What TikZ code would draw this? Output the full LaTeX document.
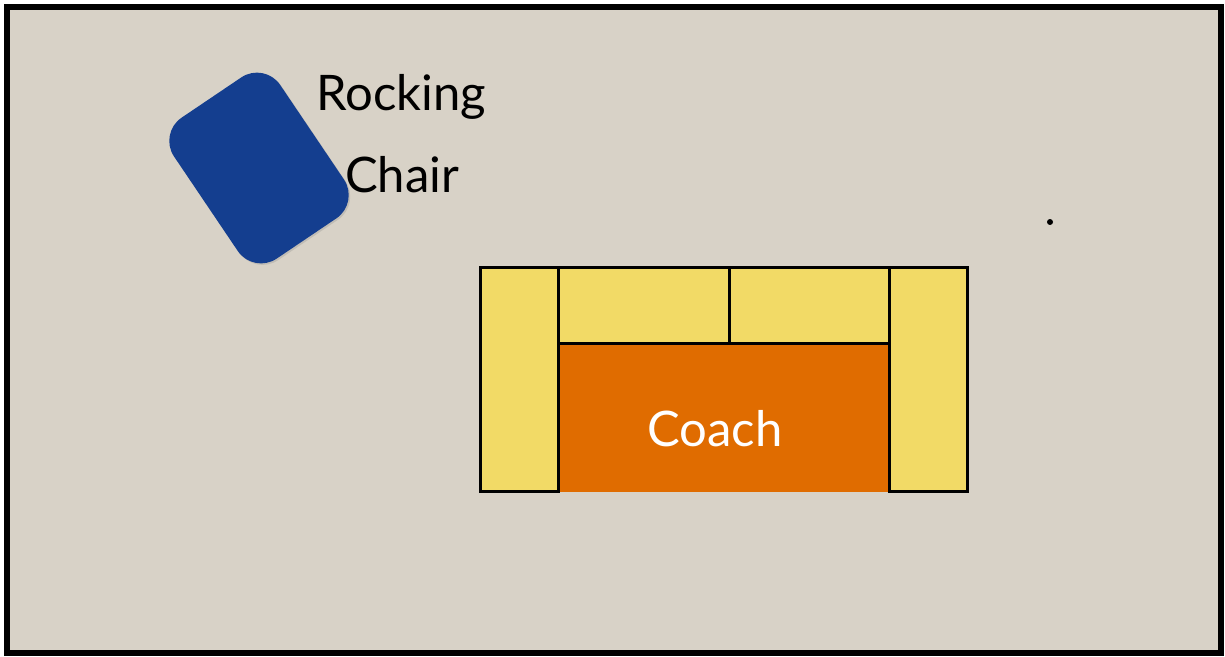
\documentclass[tikz,border=0pt]{standalone}
\usepackage{fontspec}
\setmainfont{Lato}
\usetikzlibrary{shadows}
\definecolor{floor}{RGB}{216,210,199}
\definecolor{chairblue}{RGB}{20,62,143}
\definecolor{cushion}{RGB}{242,218,102}
\definecolor{seat}{RGB}{224,108,0}
\tikzset{
  room/.style={draw=black, line width=6pt, fill=floor},
  part/.style={draw=black, line width=3pt, fill=cushion},
  label/.style={font=\fontsize{49}{58}\selectfont, inner sep=0pt},
}
\begin{document}
\begin{tikzpicture}[x=1pt,y=-1pt]
\useasboundingbox (0,0) rectangle (1225,656);
\fill[white] (0,0) rectangle (1225,656);
\node[room, minimum width=1214pt, minimum height=646pt, inner sep=0pt] (room) at (613.5,329.5) {};
% rocking chair
\node[fill=chairblue, rounded corners=28pt, minimum width=128pt, minimum height=170pt, rotate=34,
      drop shadow={opacity=0.25, shadow xshift=1.5pt, shadow yshift=-1.5pt}] (chair) at (259,168) {};
\node[label, anchor=base west] (rocking) at (316,110) {Rocking};
\node[label, anchor=base west] (chairtxt) at (345,192) {Chair};
% couch
\node[fill=seat, minimum width=331pt, minimum height=149pt, inner sep=0pt] (seat) at (723.5,417.5) {};
\node[part, minimum width=78pt, minimum height=224pt, inner sep=0pt] (larm) at (519,379) {};
\node[part, minimum width=78pt, minimum height=224pt, inner sep=0pt] (rarm) at (928,379) {};
\node[part, minimum width=171pt, minimum height=76pt, inner sep=0pt] (lback) at (643.5,305) {};
\node[part, minimum width=160pt, minimum height=76pt, inner sep=0pt] (rback) at (809,305) {};
\node[label, text=white, anchor=base] (coach) at (715,446) {Coach};
% dot
\node[circle, fill=black, minimum size=6pt, inner sep=0pt] (dot) at (1050,222) {};
\end{tikzpicture}
\end{document}
